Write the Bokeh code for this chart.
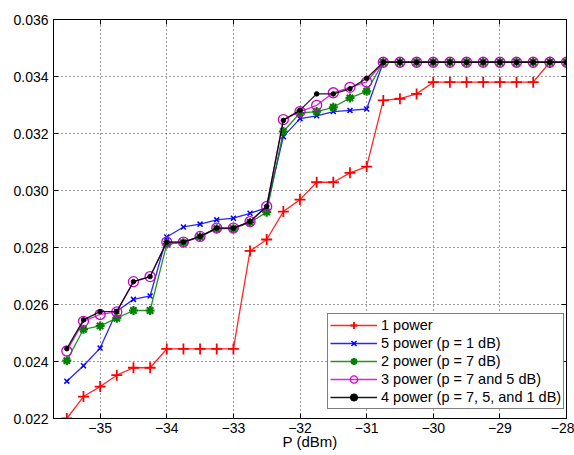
from bokeh.plotting import figure
from bokeh.embed import file_html
from bokeh.resources import INLINE
from bokeh.models import (FixedTicker, PrintfTickFormatter, LinearAxis, Legend)

# ---- data ----
P_dBm = [-35.5, -35.25, -35.0, -34.75, -34.5, -34.25, -34.0, -33.75, -33.5, -33.25,
         -33.0, -32.75, -32.5, -32.25, -32.0, -31.75, -31.5, -31.25, -31.0, -30.75,
         -30.5, -30.25, -30.0, -29.75, -29.5, -29.25, -29.0, -28.75, -28.5, -28.25,
         -28.0]

power_1 = [0.02200, 0.02277, 0.02312, 0.02352, 0.02378, 0.02378, 0.02444, 0.02444,
           0.02444, 0.02444, 0.02444, 0.02788, 0.02828, 0.02926, 0.02968, 0.03029,
           0.03029, 0.03062, 0.03084, 0.03316, 0.03322, 0.03339, 0.03380, 0.03380,
           0.03380, 0.03380, 0.03380, 0.03380, 0.03380, 0.03450, 0.03450]

power_5 = [0.02331, 0.02385, 0.02447, 0.02576, 0.02618, 0.02630, 0.02837, 0.02872,
           0.02882, 0.02897, 0.02903, 0.02920, 0.02940, 0.03189, 0.03252, 0.03262,
           0.03277, 0.03281, 0.03286, 0.03450, 0.03450, 0.03450, 0.03450, 0.03450,
           0.03450, 0.03450, 0.03450, 0.03450, 0.03450, 0.03450, 0.03450]

power_2 = [0.02403, 0.02513, 0.02525, 0.02552, 0.02579, 0.02579, 0.02812, 0.02817,
           0.02838, 0.02866, 0.02866, 0.02888, 0.02924, 0.03207, 0.03272, 0.03277,
           0.03292, 0.03325, 0.03348, 0.03450, 0.03450, 0.03450, 0.03450, 0.03450,
           0.03450, 0.03450, 0.03450, 0.03450, 0.03450, 0.03450, 0.03450]

power_3 = [0.02437, 0.02541, 0.02565, 0.02574, 0.02680, 0.02698, 0.02819, 0.02819,
           0.02839, 0.02868, 0.02868, 0.02891, 0.02944, 0.03249, 0.03277, 0.03299,
           0.03343, 0.03362, 0.03381, 0.03450, 0.03450, 0.03450, 0.03450, 0.03450,
           0.03450, 0.03450, 0.03450, 0.03450, 0.03450, 0.03450, 0.03450]

power_4 = [0.02445, 0.02546, 0.02575, 0.02576, 0.02680, 0.02698, 0.02819, 0.02819,
           0.02839, 0.02868, 0.02868, 0.02891, 0.02944, 0.03246, 0.03282, 0.03339,
           0.03339, 0.03357, 0.03394, 0.03450, 0.03450, 0.03450, 0.03450, 0.03450,
           0.03450, 0.03450, 0.03450, 0.03450, 0.03450, 0.03450, 0.03450]

labels = ["1 power", "5 power (p = 1 dB)", "2 power (p = 7 dB)",
          "3 power (p = 7 and 5 dB)", "4 power (p = 7, 5, and 1 dB)"]

x_ticks = [-35, -34, -33, -32, -31, -30, -29, -28]
y_ticks = [0.022, 0.024, 0.026, 0.028, 0.030, 0.032, 0.034, 0.036]
x_title = "P (dBm)"

FONT = "Liberation Sans"

p = figure(width=574, height=455, x_range=(-35.7, -28), y_range=(0.022, 0.036),
           output_backend="svg", toolbar_location=None,
           min_border_left=53, min_border_right=8, min_border_top=19,
           min_border_bottom=37, background_fill_color="white",
           border_fill_color="white")

p.outline_line_color = "black"
p.outline_line_width = 1

for ax in (p.xaxis[0], p.yaxis[0]):
    ax.major_tick_in = 5
    ax.major_tick_out = 0
    ax.minor_tick_line_color = None
    ax.axis_line_color = "black"
    ax.major_tick_line_color = "black"
    ax.major_label_text_font = FONT
    ax.major_label_text_font_size = "14px"
    ax.major_label_text_color = "black"
    ax.major_label_standoff = 5

p.xaxis.major_label_standoff = 4
p.xaxis.ticker = FixedTicker(ticks=x_ticks)
p.xaxis.major_label_overrides = {t: ("\u2212" + str(abs(t)) if t < 0 else str(t)) for t in x_ticks}
p.xaxis.axis_label = x_title
p.xaxis.axis_label_text_font = FONT
p.xaxis.axis_label_text_font_size = "15px"
p.xaxis.axis_label_text_font_style = "normal"
p.xaxis.axis_label_text_color = "black"
p.xaxis.axis_label_standoff = -3
p.yaxis.ticker = FixedTicker(ticks=y_ticks)
p.yaxis.formatter = PrintfTickFormatter(format="%.3f")

# box ticks on top and right
top_ax = LinearAxis(ticker=FixedTicker(ticks=x_ticks), major_tick_in=5, major_tick_out=0,
                    minor_tick_line_color=None, major_label_text_color=None,
                    major_label_standoff=0, axis_line_color="black")
right_ax = LinearAxis(ticker=FixedTicker(ticks=y_ticks), major_tick_in=5, major_tick_out=0,
                      minor_tick_line_color=None, major_label_text_color=None,
                      major_label_standoff=0, axis_line_color="black")
p.add_layout(top_ax, "above")
p.add_layout(right_ax, "right")

p.xgrid.ticker = FixedTicker(ticks=x_ticks)
p.ygrid.ticker = FixedTicker(ticks=y_ticks)
for g in (p.xgrid[0], p.ygrid[0]):
    g.grid_line_color = "#222222"
    g.grid_line_dash = "1 3"
    g.grid_line_width = 1
    g.grid_line_alpha = 0.9

# series
r1l = p.line(P_dBm, power_1, line_color="#ff0000", line_width=1.3, line_alpha=0.85)
r1m = p.scatter(P_dBm, power_1, marker="cross", size=11, line_color="#ff0000", line_width=1.8)

r5l = p.line(P_dBm, power_5, line_color="#0000ff", line_width=1.3, line_alpha=0.85)
r5m = p.scatter(P_dBm, power_5, marker="x", size=7, line_color="#0000ff", line_width=1.5)

r2l = p.line(P_dBm, power_2, line_color="#008000", line_width=1.3, line_alpha=0.85)
r2m = p.scatter(P_dBm, power_2, marker="asterisk", size=9, line_color="#008000", line_width=2.2)

r3l = p.line(P_dBm, power_3, line_color="#d000d0", line_width=1.3, line_alpha=0.85)
r3m = p.scatter(P_dBm, power_3, marker="circle", size=10, line_color="#d000d0",
                fill_color=None, line_width=1.3)

r4l = p.line(P_dBm, power_4, line_color="black", line_width=1.3, line_alpha=0.9)
r4m = p.scatter(P_dBm, power_4, marker="circle", size=4.5, line_color="black",
                fill_color="black")

legend = Legend(items=[(labels[0], [r1l, r1m]), (labels[1], [r5l, r5m]),
                       (labels[2], [r2l, r2m]), (labels[3], [r3l, r3m]),
                       (labels[4], [r4l, r4m])],
                location=(274, 9))
legend.label_text_font = FONT
legend.label_text_font_size = "14.5px"
legend.label_text_color = "black"
legend.label_height = 18
legend.glyph_height = 18
legend.glyph_width = 47
legend.label_standoff = 4
legend.padding = 2
legend.spacing = 0
legend.margin = 0
legend.border_line_color = "black"
legend.border_line_width = 1
legend.background_fill_color = "white"
legend.background_fill_alpha = 1
p.add_layout(legend, "center")

open("out.html", "w").write(file_html(p, INLINE))
